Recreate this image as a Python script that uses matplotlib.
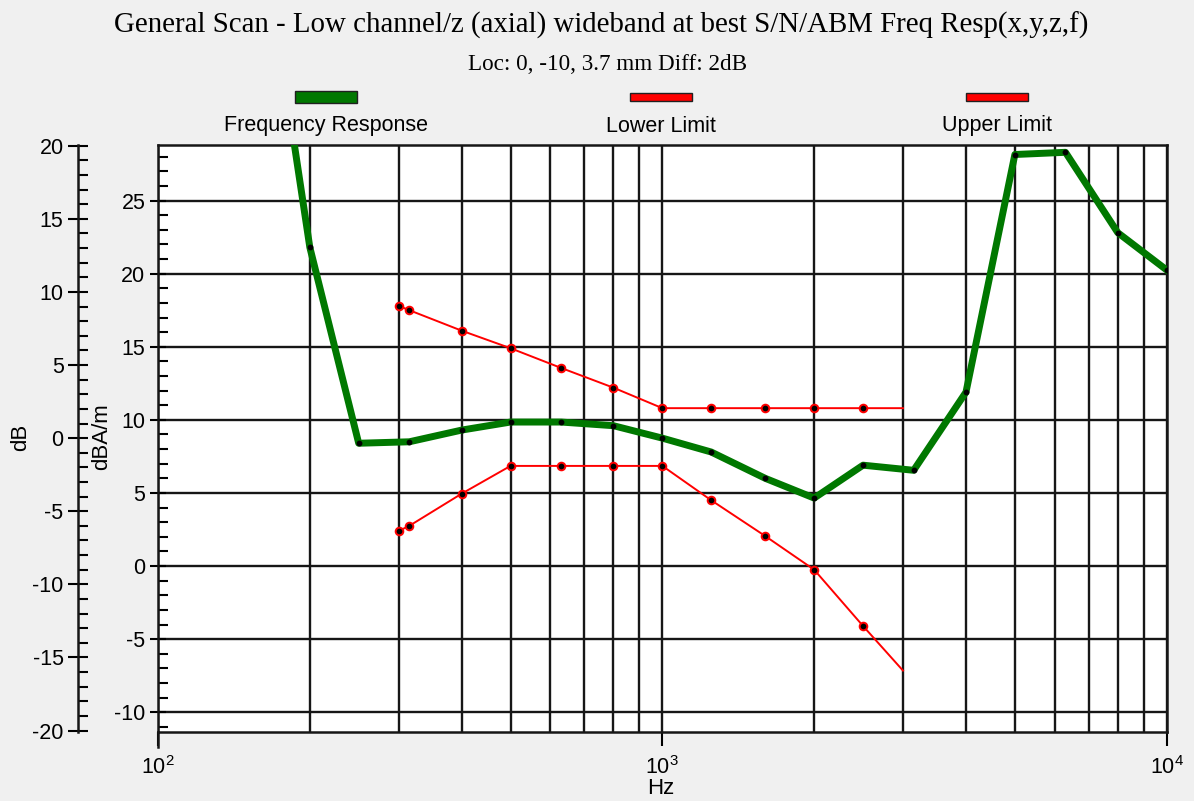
import matplotlib
matplotlib.use("Agg")
import matplotlib.pyplot as plt
from matplotlib.patches import Rectangle
from matplotlib.ticker import MultipleLocator, NullFormatter, FixedLocator

# frequency response (dBA/m)
resp_freq = [160, 200, 250, 315, 400, 500, 630, 800, 1000, 1250, 1600, 2000, 2500, 3150,
             4000, 5000, 6300, 8000, 10000]
resp_val = [44.0, 21.8, 8.4, 8.5, 9.3, 9.85, 9.85, 9.6, 8.75, 7.8, 6.0, 4.65, 6.9, 6.55,
            11.9, 28.15, 28.3, 22.8, 20.25]

lim_freq = [300, 315, 400, 500, 630, 800, 1000, 1250, 1600, 2000, 2500, 3000]
upper_val = [17.8, 17.5, 16.1, 14.9, 13.55, 12.2, 10.8, 10.8, 10.8, 10.8, 10.8, 10.8]
lower_val = [2.4, 2.75, 4.95, 6.85, 6.85, 6.85, 6.85, 4.5, 2.05, -0.25, -4.1, -7.15]

inner_ticks = [-10, -5, 0, 5, 10, 15, 20, 25]
outer_ticks = [-20, -15, -10, -5, 0, 5, 10, 15, 20]
db_offset = 8.75          # dB axis 0 sits at ~8.8 dBA/m
ylim_inner = (-11.35, 28.8)

title = "General Scan - Low channel/z (axial) wideband at best S/N/ABM Freq Resp(x,y,z,f)"
subtitle = "Loc: 0, -10, 3.7 mm Diff: 2dB"
legend_names = ["Frequency Response", "Lower Limit", "Upper Limit"]

W, H = 1194, 801
sans = ["Liberation Sans", "DejaVu Sans"]
serif = ["Liberation Serif", "DejaVu Serif"]
plt.rcParams['font.family'] = sans
plt.rcParams['font.size'] = 15
plt.rcParams['axes.unicode_minus'] = False

green = "#007800"
red = "#ff0000"
gridc = "#161616"

fig = plt.figure(figsize=(W / 100, H / 100), dpi=100, facecolor="#f0f0f0")

def fx(px):
    return px / W

def fy(py):
    return 1 - py / H

left, right, top, bot = 158, 1166.7, 145, 732
ax = fig.add_axes([fx(left), fy(bot), fx(right - left), (bot - top) / H])
ax.set_facecolor("white")
ax.set_xscale("log")
ax.set_xlim(100, 10000)
ax.set_ylim(*ylim_inner)

ax.plot(resp_freq, resp_val, color=green, lw=5, zorder=3, solid_joinstyle="round")
ax.plot(resp_freq, resp_val, ls="none", marker="o", ms=3.2, color="black", zorder=4)
idx = list(range(len(lim_freq) - 1))
for vals in (upper_val, lower_val):
    ax.plot(lim_freq, vals, color=red, lw=1.4, zorder=3, marker="o", ms=5.5,
            mfc="black", mec=red, mew=1.4, markevery=idx)

ax.yaxis.set_major_locator(FixedLocator(inner_ticks))
ax.yaxis.set_minor_locator(MultipleLocator(1))
ax.xaxis.set_minor_formatter(NullFormatter())
ax.grid(which="both", axis="x", color=gridc, lw=1.7, zorder=1)
ax.grid(which="major", axis="y", color=gridc, lw=1.7, zorder=1)
ax.set_axisbelow(True)
for s in ax.spines.values():
    s.set_color(gridc)
    s.set_linewidth(1.8)
ax.tick_params(axis="y", which="major", direction="inout", length=12, width=1.5, pad=3,
               labelsize=15.5)
ax.tick_params(axis="y", which="minor", direction="in", length=7, width=1.5)
ax.tick_params(axis="x", which="major", direction="out", length=10, width=1.5, pad=7,
               labelsize=15.5)
ax.tick_params(axis="x", which="minor", length=0)
# left axis line runs a little below the frame
ax.plot([0, 0], [-0.026, 0], transform=ax.transAxes, color=gridc, lw=1.8, clip_on=False)

# outer dB axis
ax2 = fig.add_axes([fx(77.5), fy(bot), 0.0001, (bot - top) / H])
ax2.patch.set_visible(False)
ax2.set_ylim(ylim_inner[0] - db_offset, ylim_inner[1] - db_offset)
for k in ("top", "right", "bottom"):
    ax2.spines[k].set_visible(False)
ax2.spines["left"].set_color(gridc)
ax2.spines["left"].set_linewidth(1.8)
ax2.set_xticks([])
ax2.yaxis.set_major_locator(FixedLocator(outer_ticks))
ax2.yaxis.set_minor_locator(MultipleLocator(1))
ax2.tick_params(axis="y", which="major", direction="inout", length=14, width=1.5, pad=3,
                labelsize=15.5)
ax2.tick_params(axis="y", which="minor", direction="in", length=7, width=1.5)

fig.text(fx(21), fy(437), "dB", rotation=90, ha="center", va="center", fontsize=16)
fig.text(fx(102), fy(437), "dBA/m", rotation=90, ha="center", va="center", fontsize=16)
fig.text(fx(661), fy(789), "Hz", ha="center", va="center", fontsize=16)

fig.text(fx(601), fy(25), title, ha="center", va="center", family=serif, fontsize=20.8)
fig.text(fx(608), fy(65), subtitle, ha="center", va="center", family=serif, fontsize=16.7)

# legend: swatch above label
leg_x = [326, 661, 997]
for i, name in enumerate(legend_names):
    c = green if i == 0 else red
    h = 11 if i == 0 else 7
    fig.patches.append(Rectangle((fx(leg_x[i] - 31), fy(97 + h / 2)), fx(62), h / H,
                                 transform=fig.transFigure, facecolor=c,
                                 edgecolor="#202020", lw=1.0))
    fig.text(fx(leg_x[i]), fy(126), name, ha="center", va="center", fontsize=15.5)

fig.savefig("out.png", dpi=100, facecolor=fig.get_facecolor())
